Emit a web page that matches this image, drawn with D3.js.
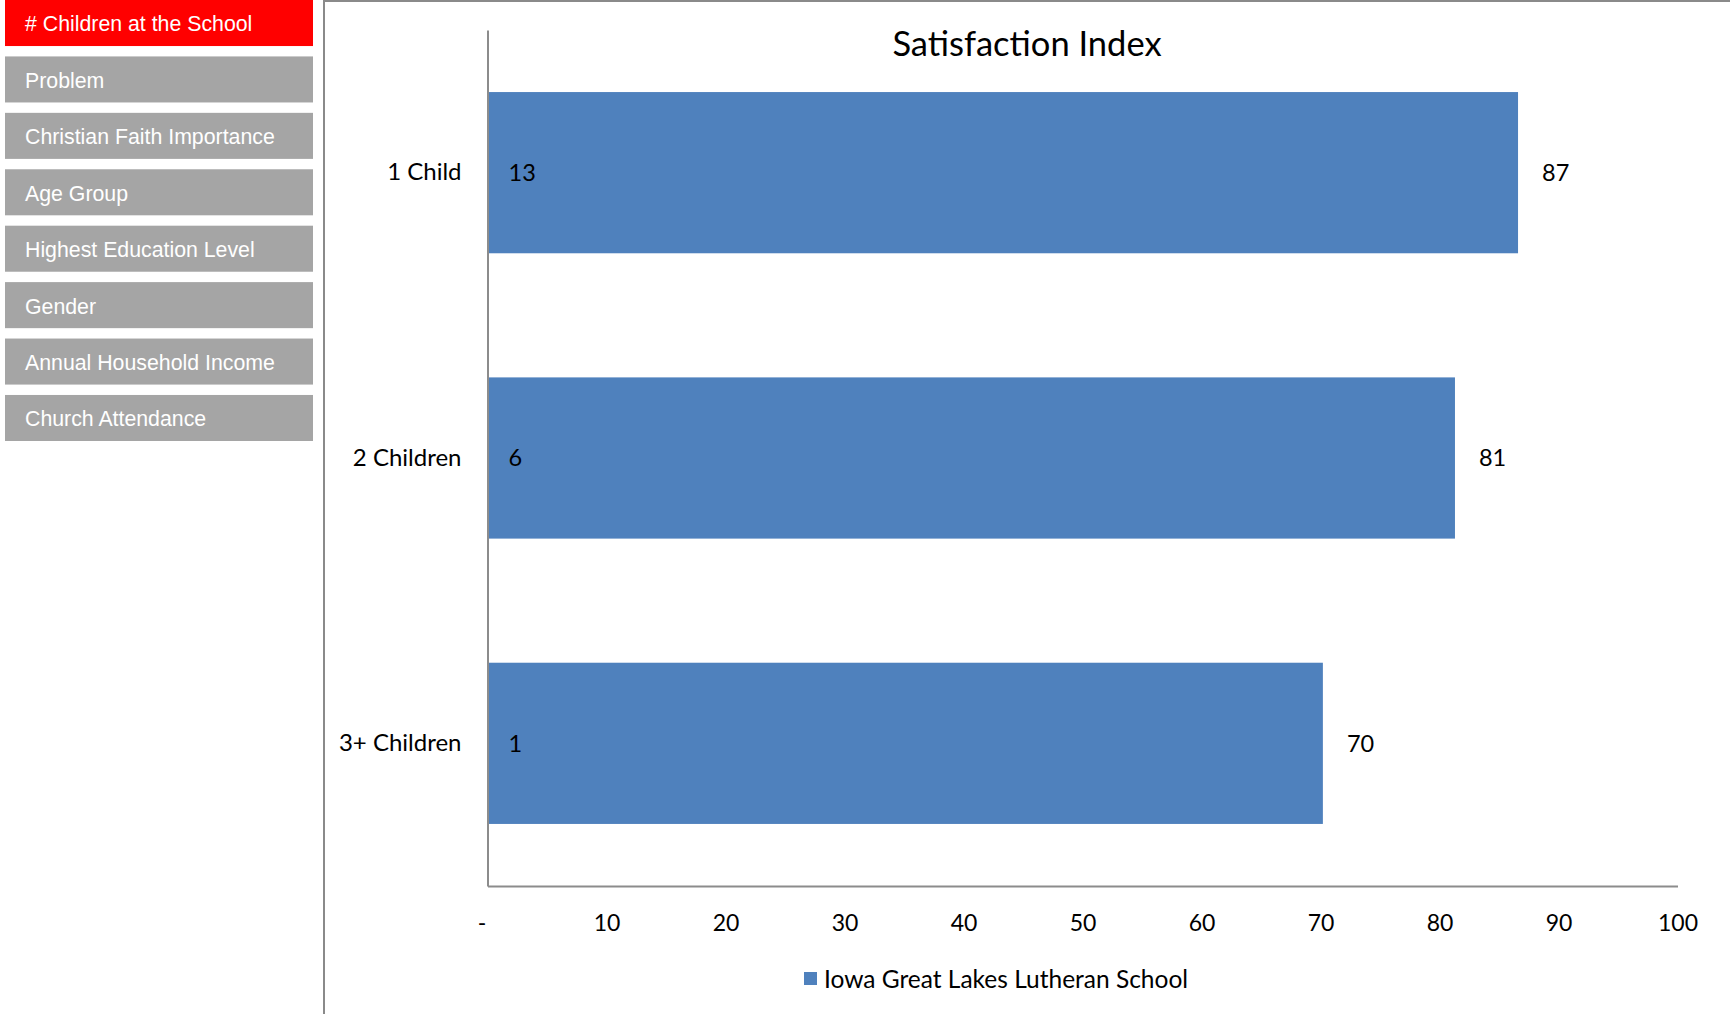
<!DOCTYPE html>
<html>
<head>
<meta charset="utf-8">
<script src="https://cdn.jsdelivr.net/npm/d3@7"></script>
<style>
  html, body { margin: 0; padding: 0; background: #fff; }
  svg { display: block; }
</style>
</head>
<body>
<svg id="chart" width="1730" height="1014"></svg>
<script>
// ---- data ----
const menuItems = ["# Children at the School", "Problem", "Christian Faith Importance", "Age Group",
  "Highest Education Level", "Gender", "Annual Household Income", "Church Attendance"];
const activeMenu = 0;
const categories = ["1 Child", "2 Children", "3+ Children"];
const satisfaction = [86.6, 81.3, 70.2];
const counts = [13, 6, 1];
const xTicks = [0, 10, 20, 30, 40, 50, 60, 70, 80, 90, 100];
const chartTitle = "Satisfaction Index";
const seriesName = "Iowa Great Lakes Lutheran School";

// ---- drawing ----
const svg = d3.select("#chart");
const font = "Lato, 'Open Sans', sans-serif";
const barColor = "#4F81BD";
const axisColor = "#8c8c8c";
const fmt = d3.format(".0f");

// sidebar menu
const menuY = d3.scaleBand().domain(d3.range(menuItems.length)).range([0, 441]).paddingInner(0.184).paddingOuter(0);
const menu = svg.append("g").selectAll("g").data(menuItems).join("g")
  .attr("transform", (d, i) => `translate(5,${menuY(i)})`);
menu.append("rect").attr("width", 308).attr("height", menuY.bandwidth())
  .attr("fill", (d, i) => i === activeMenu ? "#FF0000" : "#A5A5A5");
menu.append("text").attr("x", 20).attr("y", menuY.bandwidth() / 2 + 1).attr("dy", "0.35em")
  .attr("fill", "#fff").style("font-family", "'Liberation Sans', Arial, sans-serif").style("font-size", "21.3px")
  .text(d => d);

// chart frame
svg.append("path").attr("d", "M324,1014 V1 H1730").attr("fill", "none")
  .attr("stroke", "#8a8a8a").attr("stroke-width", 2);

// scales
const x = d3.scaleLinear().domain([0, 100]).range([487.5, 1677.5]);
const y = d3.scaleBand().domain(categories).range([30, 886]).paddingInner(0.435).paddingOuter(0.2175);

// title
svg.append("text").attr("x", 1027).attr("y", 56).attr("text-anchor", "middle")
  .style("font-family", font).style("font-size", "34.5px").attr("fill", "#000").text(chartTitle);

// bars
svg.append("g").selectAll("rect").data(categories).join("rect")
  .attr("x", x(0)).attr("y", d => y(d))
  .attr("width", (d, i) => x(satisfaction[i]) - x(0))
  .attr("height", y.bandwidth()).attr("fill", barColor);

// inside labels (counts)
svg.append("g").selectAll("text").data(categories).join("text")
  .attr("x", x(0) + 21).attr("y", d => y(d) + y.bandwidth() / 2).attr("dy", "0.35em")
  .style("font-family", font).style("font-size", "23.5px").attr("fill", "#000")
  .text((d, i) => counts[i]);

// outside labels (values)
svg.append("g").selectAll("text").data(categories).join("text")
  .attr("x", (d, i) => x(satisfaction[i]) + 24).attr("y", d => y(d) + y.bandwidth() / 2).attr("dy", "0.35em")
  .style("font-family", font).style("font-size", "23.5px").attr("fill", "#000")
  .text((d, i) => fmt(satisfaction[i]));

// y axis
const yAxis = svg.append("g").attr("transform", `translate(${x(0)},0)`)
  .call(d3.axisLeft(y).tickSize(0).tickPadding(26).tickSizeOuter(0));
yAxis.select(".domain").attr("stroke", axisColor).attr("stroke-width", 2);
yAxis.selectAll("text").style("font-family", font).style("font-size", "24px").attr("fill", "#000");

// x axis
const xAxis = svg.append("g").attr("transform", `translate(0,886)`)
  .call(d3.axisBottom(x).tickValues(xTicks).tickSize(0).tickPadding(29).tickSizeOuter(0)
    .tickFormat(d => d === 0 ? "-" : d));
xAxis.select(".domain").attr("stroke", axisColor).attr("stroke-width", 2);
xAxis.selectAll("text").style("font-family", font).style("font-size", "23px").attr("fill", "#000")
  .attr("dx", d => d === 0 ? -6 : 0);

// legend
const legend = svg.append("g").attr("transform", "translate(804,972)");
legend.append("rect").attr("width", 13).attr("height", 13).attr("fill", barColor);
legend.append("text").attr("x", 20).attr("y", 7).attr("dy", "0.35em")
  .style("font-family", font).style("font-size", "24.5px").attr("fill", "#000").text(seriesName);
</script>
</body>
</html>
